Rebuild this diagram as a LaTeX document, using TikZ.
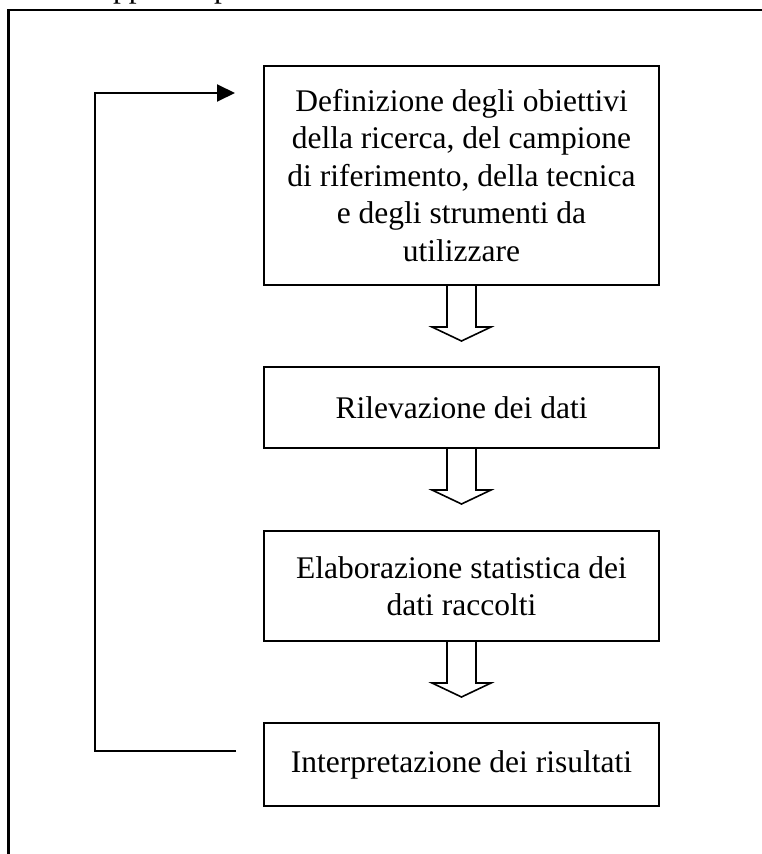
\documentclass[tikz,border=0pt]{standalone}
\usepackage{fontspec}
\setmainfont{Liberation Serif}
\usetikzlibrary{calc,arrows.meta}

\tikzset{
  stepbox/.style={draw, line width=2pt, inner sep=0pt, align=center,
    minimum width=395pt, font=\fontsize{31.5}{37.5}\selectfont},
  blockarrow/.style={draw, line width=1.6pt, fill=white, line join=miter},
  loopline/.style={line width=2pt},
  frameline/.style={line width=2.2pt}
}

\begin{document}
\begin{tikzpicture}[x=1pt, y=-1pt]
  \useasboundingbox (0,0) rectangle (762,854);

  % heading line above the frame, cut by the page edge
  \begin{scope}
    \clip (0,0) rectangle (762,854);
    \node[anchor=base west, inner sep=0pt, font=\fontsize{31.5}{37.5}\selectfont] (headA) at (113,-3) {pp};
    \node[anchor=base west, inner sep=0pt, font=\fontsize{31.5}{37.5}\selectfont] (headB) at (214,-3) {p};
  \end{scope}

  % outer frame, running off the right and bottom edges
  \coordinate (frameTL) at (8.5,10);
  \draw[frameline] (frameTL |- 0,870) -- (frameTL) -- (frameTL -| 780,0);

  % process steps
  \node[stepbox, minimum height=219pt] (b1) at (461.5,175.5)
    {Definizione degli obiettivi\\della ricerca, del campione\\di riferimento, della tecnica\\e degli strumenti da\\utilizzare};
  \node[stepbox, minimum height=81pt] (b2) at (461.5,407.5) {Rilevazione dei dati};
  \node[stepbox, minimum height=110pt] (b3) at (461.5,586) {Elaborazione statistica dei\\dati raccolti};
  \node[stepbox, minimum height=83pt] (b4) at (461.5,764.5) {Interpretazione dei risultati};

  % hollow block arrows between steps
  \foreach \a in {b1,b2,b3}{
    \draw[blockarrow] ($(\a.south)+(-14.5,0)$) -- ++(0,41) -- ++(-15,0)
      -- ++(29.5,14) -- ++(29.5,-14) -- ++(-15,0) -- ++(0,-41);
  }

  % feedback loop from the last step back to the first
  \coordinate (loopStart) at ($(b4.west)+(-27,-13.5)$);
  \coordinate (loopEnd) at ($(b1.west)+(-28,-82.5)$);
  \draw[loopline, -{Triangle[length=18pt,width=17pt]}]
    (loopStart) -- (95,0 |- loopStart) -- (95,0 |- loopEnd) -- (loopEnd);
\end{tikzpicture}
\end{document}
